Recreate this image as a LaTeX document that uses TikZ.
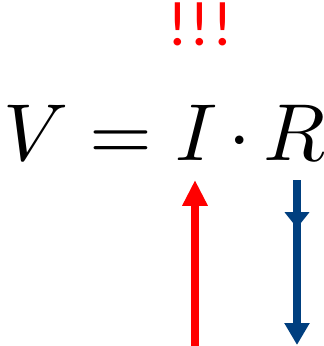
\documentclass[tikz,border=0pt]{standalone}
\usepackage{fontspec}
\usepackage{unicode-math}
\setmathfont{Latin Modern Math}
\newfontfamily\calibri{Carlito}
\usepackage{tikz}
\usetikzlibrary{arrows.meta,positioning}
\definecolor{rojo}{HTML}{FF0000}
\definecolor{azul}{HTML}{003F7F}

\begin{document}
\begin{tikzpicture}[x=0.02cm, y=-0.02cm,
  simbolo/.style={inner sep=0pt, anchor=base, font=\fontsize{46}{46}\selectfont},
  flecha/.style={line width=4.5pt},
  punta/.style={-{Triangle[width=13.6pt, length=#1]}},
  punta/.default=12.5pt]
\useasboundingbox (0,0) rectangle (324,346);
\node[font=\calibri\fontsize{36}{36}\selectfont, text=rojo, inner sep=0pt, anchor=base] (alerta) at (200,45) {!\kern1pt!\kern1pt!};
\node[simbolo] (V) at (36,160) {$V$};
\node[simbolo] (igual) at (121,160) {$=$};
\node[simbolo] (I) at (197,160) {$I$};
\node[simbolo] (por) at (240,160) {$\cdot$};
\node[simbolo] (R) at (295,160) {$R$};
% flecha roja (sube) y azul (baja)
\coordinate (rojoini) at (195,346);
\coordinate (rojofin) at (195,180);
\coordinate (azulini) at (297,180);
\coordinate (azulmed) at (297,228);
\coordinate (azulfin) at (297,345);
\draw[flecha, rojo, punta=14.7pt] (rojoini) -- (rojofin);
\draw[flecha, azul, punta=9pt] (azulini) -- (azulmed);
\draw[flecha, azul, punta] (azulini) -- (azulfin);
\end{tikzpicture}
\end{document}
